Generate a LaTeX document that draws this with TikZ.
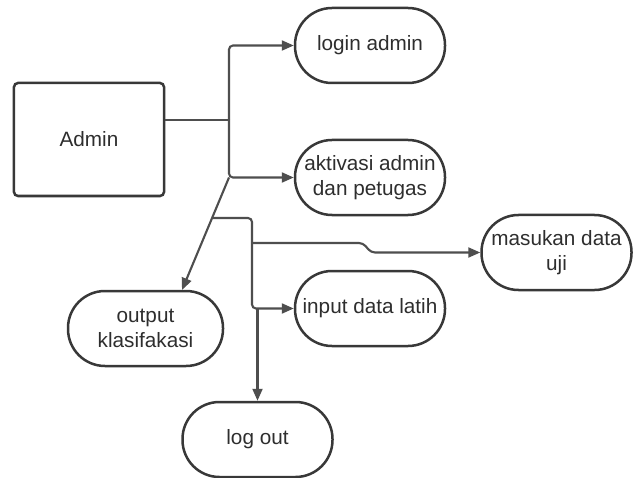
\documentclass[tikz,border=0pt]{standalone}
\usepackage{fontspec}
\setmainfont{Liberation Sans}
\usetikzlibrary{arrows.meta}
\definecolor{linegray}{HTML}{4E4E4E}
\definecolor{boxgray}{HTML}{383838}
\definecolor{textgray}{HTML}{2E2E2E}
\begin{document}
\begin{tikzpicture}[x=1bp,y=-1bp,
  pill/.style={draw=boxgray,line width=2.5bp,rectangle,rounded corners=37bp,
    minimum width=150bp,minimum height=75bp,align=center,inner sep=2bp,
    text=textgray,font=\fontsize{20.8}{24.5}\selectfont},
  adminbox/.style={draw=boxgray,line width=2.5bp,rectangle,rounded corners=4bp,
    minimum width=150bp,minimum height=113bp,text=textgray,
    font=\fontsize{20.8}{24.5}\selectfont},
  conn/.style={draw=linegray,line width=2.1bp,rounded corners=4bp},
  arr/.style={conn,-{Triangle[length=12bp,width=10bp]}}]
\useasboundingbox (0,0) rectangle (638,478);
\fill[white] (0,0) rectangle (638,478);
\node[adminbox] (admin) at (89,139.5) {Admin};
\node[pill] (login) at (370,45.5) {login admin};
\node[pill] (aktivasi) at (370,177.5) {aktivasi admin\\dan petugas};
\node[pill] (masukan) at (556.5,252.5) {masukan data\\uji};
\node[pill] (input) at (370,308.5) {input data latih};
\node[pill,minimum width=155bp] (output) at (145.5,328.5) {output\\klasifakasi};
\node[pill] (logout) at (257.5,439.5) {log out};
\coordinate (j1) at (229,120);
\coordinate (j2) at (229,177.5);
\coordinate (j3) at (211.9,218);
\coordinate (j4) at (252,243);
\coordinate (j5) at (257.5,308.5);
\coordinate (outtip) at (182,290);
\draw[conn] (admin.east |- j1) -- (j1);
\draw[arr] (j1) |- (login.west);
\draw[arr] (j1) |- (aktivasi.west);
\draw[arr,rounded corners=0pt] (j2) -- (outtip);
\draw[arr] (j3) -- (252,218) |- (input.west);
\draw[arr] (j4) -- (363,243) -- (371,252.5) -- (masukan.west);
\draw[arr] (j5) -- (logout.north);
\end{tikzpicture}
\end{document}
